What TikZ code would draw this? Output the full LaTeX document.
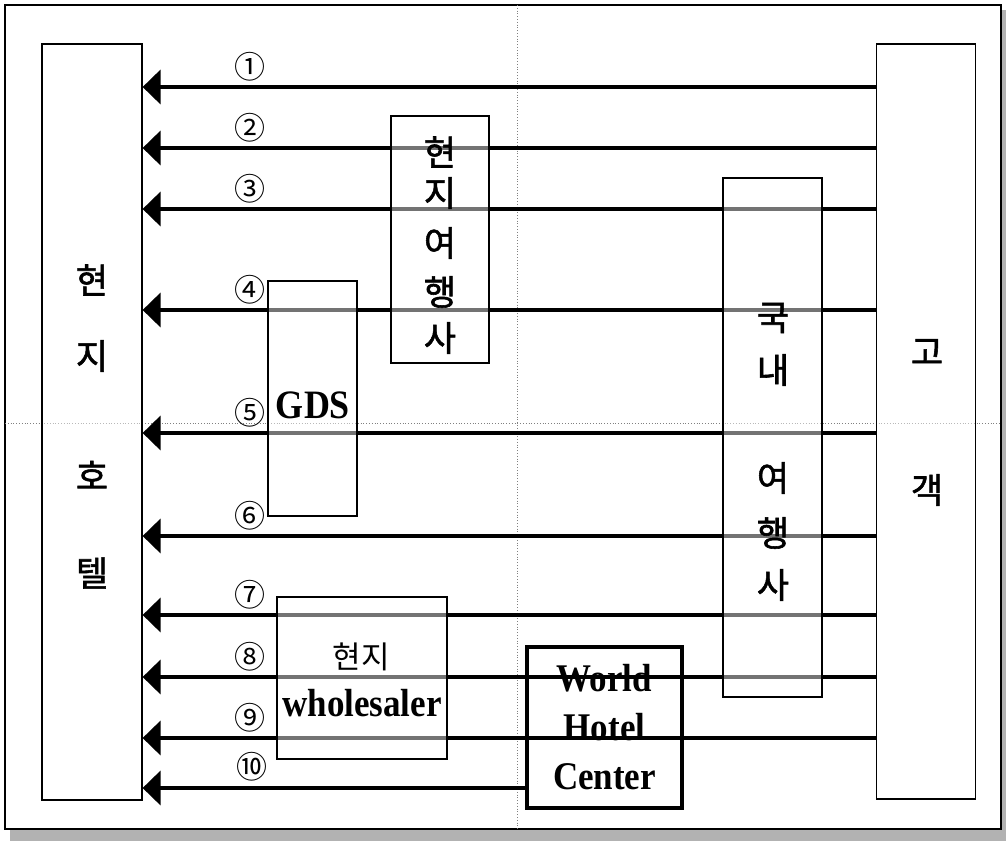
\documentclass[tikz,border=0pt]{standalone}
\usepackage{fontspec}
\setmainfont{Liberation Serif}
\newfontfamily\krfont{Noto Sans CJK KR}
\newfontfamily\krheavy{Noto Sans CJK KR}[FakeBold=1.6]
\usetikzlibrary{arrows.meta,positioning}
\tikzset{
  panel/.style={draw,line width=1.2pt,inner sep=0pt,fill=white,fill opacity=0.45},
  krbig/.style={font=\krheavy\fontsize{35}{35}\selectfont},
  krmid/.style={font=\krfont\fontsize{31}{31}\selectfont},
  numlbl/.style={font=\krfont\fontsize{31}{31}\selectfont},
  enlbl/.style={font=\bfseries\fontsize{35}{49}\selectfont,align=center},
  flow/.style={line width=4pt,-{Triangle[length=18pt,width=34pt]}},
  guide/.style={gray,dotted,line width=0.8pt}
}
\newcommand{\tall}[1]{\scalebox{1}[1.12]{#1}}

\begin{document}
\begin{tikzpicture}[x=1pt,y=-1pt]
  \useasboundingbox (0,0) rectangle (1006,841);
  % frame and shadow
  \fill[gray!60] (10,829) rectangle (1006,841);
  \fill[gray!60] (1001,10) rectangle (1006,841);
  \draw[line width=1.5pt,fill=white] (5,5) rectangle (1001,829);
  \draw[guide] (517,5) -- (517,829);
  \draw[guide] (5,423) -- (1001,423);
  % end boxes
  \node[panel,minimum width=100pt,minimum height=756pt] (hotel) at (92,422) {};
  \node[panel,minimum width=99pt,minimum height=755pt] (guest) at (926,421.5) {};
  \node[draw,line width=3.5pt,minimum width=155pt,minimum height=161pt,inner sep=0pt] (whc) at (604.5,727.5) {};
  % flows
  \foreach \y/\lbl [count=\i] in {87/①,148/②,209/③,310/④,433/⑤,536/⑥,615/⑦,677/⑧,738/⑨}{
    \coordinate (s\i) at (guest.west |- 0,\y);
    \draw[flow] (s\i) -- (hotel.east |- s\i);
    \node[numlbl] (n\i) at (250,\y-20) {\lbl};
  }
  \coordinate (s10) at (whc.west |- 0,788);
  \draw[flow] (s10) -- (hotel.east |- s10);
  \node[numlbl] (n10) at (252,767) {⑩};
  % middle boxes
  \node[panel,minimum width=98pt,minimum height=247pt] (localag) at (440,239.5) {};
  \node[panel,minimum width=89pt,minimum height=235pt] (gds) at (312.5,398.5) {};
  \node[panel,minimum width=99pt,minimum height=519pt] (domag) at (772.5,437.5) {};
  \node[panel,minimum width=170pt,minimum height=162pt] (whs) at (362,678) {};
  \node[draw,line width=3.5pt,minimum width=155pt,minimum height=161pt,inner sep=0pt] at (whc) {};
  % texts
  \foreach \c/\y [count=\i] in {현/280,지/356,호/475,텔/573}
    \node[krbig] (ht\i) at (92,\y) {\c};
  \foreach \c/\y [count=\i] in {고/352,객/490}
    \node[krbig] (gt\i) at (927,\y) {\c};
  \foreach \c/\y [count=\i] in {현/152,지/193,여/243,행/292,사/338}
    \node[krbig] (lt\i) at (440,\y) {\c};
  \foreach \c/\y [count=\i] in {국/318,내/370,여/478,행/533,사/585}
    \node[krbig] (dt\i) at (773,\y) {\c};
  \node[font=\bfseries\fontsize{36}{36}\selectfont] (gdst) at (313,405) {\tall{GDS}};
  \node[krmid] (wt1) at (361,657) {현지};
  \node[font=\bfseries\fontsize{35}{35}\selectfont] (wt2) at (362,703) {\tall{wholesaler}};
  \node[enlbl] (whct) at (whc.center) {\tall{World}\\\tall{Hotel}\\\tall{Center}};
\end{tikzpicture}
\end{document}
